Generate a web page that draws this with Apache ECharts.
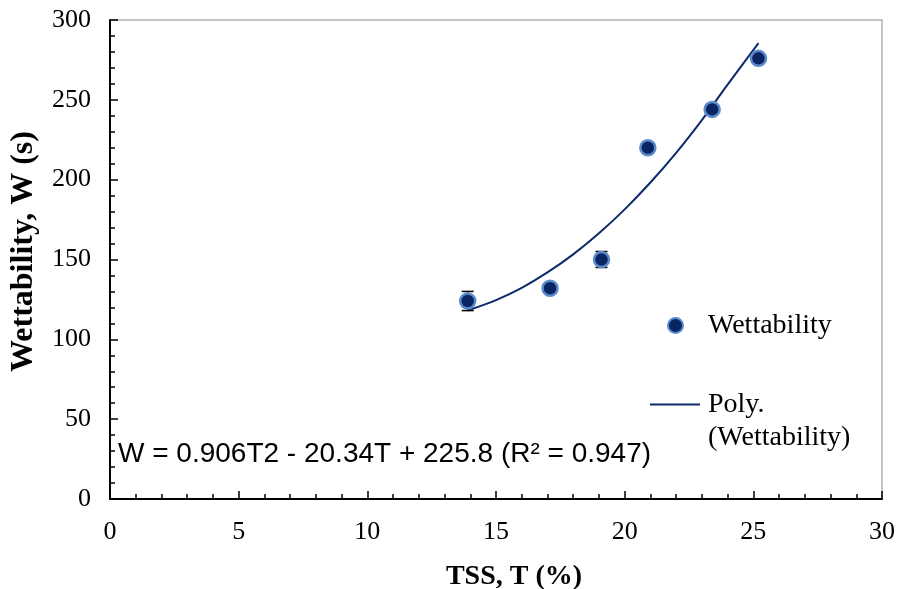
<!DOCTYPE html>
<html><head><meta charset="utf-8">
<script src="https://cdn.jsdelivr.net/npm/echarts@6/dist/echarts.min.js"></script>
<style>html,body{margin:0;padding:0;background:#fff}#c{width:902px;height:589px}</style>
</head><body><div id="c"></div>
<script>
var tss = [13.9, 17.1, 19.1, 20.9, 23.4, 25.2];
var wett = [124, 132, 150, 220, 244, 276];
var errs = [6, 2, 5, 2, 2, 3];
var trendT = [13.9, 15, 16, 17, 18, 19, 20, 21, 22, 23, 24, 25.2];
var trendW = [118.1, 124.6, 132.3, 141.9, 153.2, 166.4, 181.4, 198.2, 216.8, 237.3, 259.5, 285.5];
var xTicks = [0, 5, 10, 15, 20, 25, 30];
var yTicks = [0, 50, 100, 150, 200, 250, 300];
var equation = 'W = 0.906T2 - 20.34T + 225.8 (R² = 0.947)';

var serif = '"Liberation Serif", "Times New Roman", serif';
var chart = echarts.init(document.getElementById('c'));
var pts = tss.map(function(t, i){ return [t, wett[i]]; });
var errData = tss.map(function(t, i){ return [t, wett[i] - errs[i], wett[i] + errs[i]]; });
var trend = trendT.map(function(t, i){ return [t, trendW[i]]; });

chart.setOption({
  animation: false,
  grid: {left: 110, right: 20, top: 20, bottom: 90, containLabel: false, outerBoundsMode: 'none',
         show: true, borderColor: '#b3b3b3', borderWidth: 1.5, backgroundColor: '#fff'},
  xAxis: {
    type: 'value', min: xTicks[0], max: xTicks[xTicks.length-1], interval: 5,
    name: 'TSS, T (%)', nameLocation: 'middle', nameGap: 64,
    nameTextStyle: {fontFamily: serif, fontSize: 28, fontWeight: 'bold', color: '#000', padding: [0,0,0,36]},
    axisLine: {lineStyle: {color: '#000', width: 2}},
    axisTick: {inside: true, length: 8, lineStyle: {color: '#000', width: 1.5}},
    minorTick: {show: true, splitNumber: 5, length: 5, lineStyle: {color: '#000', width: 1.5}},
    splitLine: {show: false},
    axisLabel: {fontFamily: serif, fontSize: 26, color: '#000', margin: 20}
  },
  yAxis: {
    type: 'value', min: yTicks[0], max: yTicks[yTicks.length-1], interval: 50,
    name: 'Wettability, W (s)', nameLocation: 'middle', nameGap: 70,
    nameTextStyle: {fontFamily: serif, fontSize: 32, fontWeight: 'bold', color: '#000', padding: [0,0,0,16]},
    axisLine: {lineStyle: {color: '#000', width: 2}},
    axisTick: {inside: true, length: 8, lineStyle: {color: '#000', width: 1.5}},
    minorTick: {show: true, splitNumber: 5, length: 5, lineStyle: {color: '#000', width: 1.5}},
    splitLine: {show: false},
    axisLabel: {fontFamily: serif, fontSize: 26, color: '#000', margin: 19}
  },
  legend: [{
    data: [{name: 'Wettability', icon: 'circle'}],
    left: 667, top: 309, padding: 0, itemWidth: 15, itemHeight: 15, itemGap: 10,
    textStyle: {fontFamily: serif, fontSize: 28, lineHeight: 33, color: '#000', padding: [0,0,0,20]}
  }, {
    data: [{name: 'Poly. (Wettability)', icon: 'rect'}],
    left: 650, top: 355, padding: 0, itemWidth: 50, itemHeight: 2, itemGap: 10,
    formatter: function(){ return ' \nPoly.\n(Wettability)'; },
    textStyle: {fontFamily: serif, fontSize: 28, color: '#000', lineHeight: 33, padding: [0,0,0,3]}
  }],
  graphic: [{
    type: 'text', left: 118, top: 440,
    style: {text: equation, fontFamily: '"Liberation Sans", Arial, sans-serif', fontSize: 28, fill: '#000'}
  }],
  series: [{
    name: 'Poly. (Wettability)', type: 'line', data: trend, smooth: 0.3, symbol: 'none',
    lineStyle: {color: '#0c2a6b', width: 2}, itemStyle: {color: '#0c2a6b'}, z: 2
  }, {
    name: 'errbars', type: 'custom', data: errData, z: 3,
    renderItem: function(params, api){
      var lo = api.coord([api.value(0), api.value(1)]);
      var hi = api.coord([api.value(0), api.value(2)]);
      var w = 6;
      var st = {stroke: '#000', lineWidth: 1.5};
      return {type: 'group', children: [
        {type: 'line', shape: {x1: lo[0], y1: lo[1], x2: hi[0], y2: hi[1]}, style: st},
        {type: 'line', shape: {x1: lo[0]-w, y1: lo[1], x2: lo[0]+w, y2: lo[1]}, style: st},
        {type: 'line', shape: {x1: hi[0]-w, y1: hi[1], x2: hi[0]+w, y2: hi[1]}, style: st}
      ]};
    }
  }, {
    name: 'Wettability', type: 'scatter', data: pts, symbol: 'circle', symbolSize: 15, z: 4,
    itemStyle: {color: '#0a2563', borderColor: '#5a8ccc', borderWidth: 2.5, opacity: 1}
  }]
});
</script></body></html>
